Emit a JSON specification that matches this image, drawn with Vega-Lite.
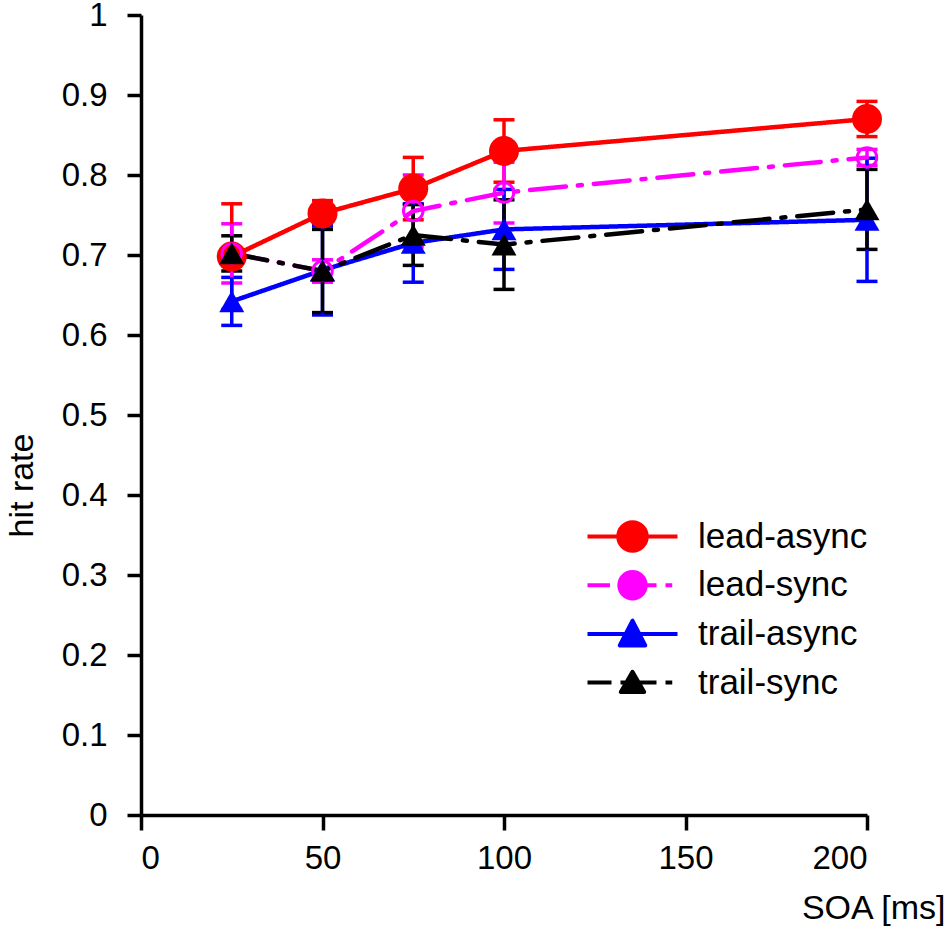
{
  "$schema": "https://vega.github.io/schema/vega-lite/v6.json",
  "autosize": {"type": "none"},
  "width": 726,
  "height": 800,
  "padding": {"left": 141, "top": 15, "right": 83, "bottom": 115},
  "background": "white",
  "config": {
    "view": {"stroke": null},
    "font": "Liberation Sans",
    "axis": {
      "grid": false,
      "domainColor": "black",
      "domainWidth": 3.5,
      "tickColor": "black",
      "tickWidth": 3.5,
      "labelColor": "black",
      "labelFont": "Liberation Sans",
      "labelFontSize": 33,
      "titleColor": "black",
      "titleFont": "Liberation Sans",
      "titleFontSize": 34,
      "titleFontWeight": "normal"
    }
  },
  "data": {
    "values": [
      {"series": "lead-async", "soa": 25, "rate": 0.698, "err": 0.066},
      {"series": "lead-async", "soa": 50, "rate": 0.752, "err": 0.016},
      {"series": "lead-async", "soa": 75, "rate": 0.783, "err": 0.039},
      {"series": "lead-async", "soa": 100, "rate": 0.830, "err": 0.039},
      {"series": "lead-async", "soa": 200, "rate": 0.870, "err": 0.022},
      {"series": "lead-sync", "soa": 25, "rate": 0.702, "err": 0.037},
      {"series": "lead-sync", "soa": 50, "rate": 0.680, "err": 0.014},
      {"series": "lead-sync", "soa": 75, "rate": 0.755, "err": 0.045},
      {"series": "lead-sync", "soa": 100, "rate": 0.778, "err": 0.038},
      {"series": "lead-sync", "soa": 200, "rate": 0.822, "err": 0.010},
      {"series": "trail-async", "soa": 25, "rate": 0.642, "err": 0.030},
      {"series": "trail-async", "soa": 50, "rate": 0.681, "err": 0.056},
      {"series": "trail-async", "soa": 75, "rate": 0.715, "err": 0.049},
      {"series": "trail-async", "soa": 100, "rate": 0.732, "err": 0.050},
      {"series": "trail-async", "soa": 200, "rate": 0.744, "err": 0.077},
      {"series": "trail-sync", "soa": 25, "rate": 0.702, "err": 0.022},
      {"series": "trail-sync", "soa": 50, "rate": 0.680, "err": 0.052},
      {"series": "trail-sync", "soa": 75, "rate": 0.725, "err": 0.038},
      {"series": "trail-sync", "soa": 100, "rate": 0.713, "err": 0.056},
      {"series": "trail-sync", "soa": 200, "rate": 0.757, "err": 0.050}
    ]
  },
  "encoding": {
    "x": {
      "field": "soa",
      "type": "quantitative",
      "scale": {"domain": [0, 200], "nice": false},
      "axis": {
        "values": [0, 50, 100, 150, 200],
        "tickSize": 15,
        "labelPadding": 12,
        "labelBaseline": "top",
        "title": "SOA [ms]",
        "titleX": 804,
        "titleY": 103,
        "titleAlign": "right",
        "titleBaseline": "alphabetic"
      }
    },
    "y": {
      "field": "rate",
      "type": "quantitative",
      "scale": {"domain": [0, 1], "nice": false},
      "axis": {
        "values": [0, 0.1, 0.2, 0.3, 0.4, 0.5, 0.6, 0.7, 0.8, 0.9, 1],
        "format": "~g",
        "tickSize": 14,
        "labelPadding": 20,
        "title": "hit rate",
        "titleX": -109,
        "titleY": 470,
        "titleAngle": -90,
        "titleAlign": "center",
        "titleBaseline": "alphabetic"
      }
    },
    "color": {
      "field": "series",
      "type": "nominal",
      "scale": {
        "domain": ["lead-async", "lead-sync", "trail-async", "trail-sync"],
        "range": ["#ff0000", "#ff00ff", "#0000ff", "#000000"]
      },
      "legend": {
        "title": null,
        "orient": "none",
        "legendX": 474,
        "legendY": 504,
        "padding": 0,
        "symbolSize": 900,
        "symbolStrokeWidth": 4,
        "labelFont": "Liberation Sans",
        "labelFontSize": 35,
        "labelColor": "black",
        "labelLimit": 400,
        "labelOffset": 48,
        "rowPadding": 12.7,
        "encode": {
          "symbols": {
            "update": {
              "shape": [
                {"test": "datum.value === 'lead-async'", "value": "M-3,0H3M0.95,0C0.95,0.525,0.525,0.95,0,0.95C-0.525,0.95,-0.95,0.525,-0.95,0C-0.95,-0.525,-0.525,-0.95,0,-0.95C0.525,-0.95,0.95,-0.525,0.95,0Z"},
                {"test": "datum.value === 'lead-sync'", "value": "M-3,0H-1.5M-0.8,0H1.6M2.2,0H2.65M0.88,0C0.88,0.486,0.486,0.88,0,0.88C-0.486,0.88,-0.88,0.486,-0.88,0C-0.88,-0.486,-0.486,-0.88,0,-0.88C0.486,-0.88,0.88,-0.486,0.88,0Z"},
                {"test": "datum.value === 'trail-async'", "value": "M-3,0H3M0,-0.88L-0.85,0.77L0.85,0.77Z"},
                {"value": "M-3,0H-1.4M-0.8,0H1.6M2.2,0H2.65M0,-0.72L-0.78,0.62L0.78,0.62Z"}
              ],
              "fill": {"scale": "color", "field": "value"},
              "stroke": {"scale": "color", "field": "value"},
              "strokeWidth": {"value": 4},
              "strokeJoin": {"value": "round"},
              "fillOpacity": {"value": 1},
              "strokeOpacity": {"value": 1},
              "opacity": {"value": 1}
            }
          }
        }
      }
    }
  },
  "layer": [
    {
      "mark": {"type": "errorbar", "ticks": true, "size": 21, "thickness": 3.5, "opacity": 1},
      "encoding": {
        "yError": {"field": "err"}
      }
    },
    {
      "mark": {"type": "line", "strokeWidth": 4.5, "strokeCap": "round"},
      "encoding": {
        "strokeDash": {
          "condition": {"test": "datum.series == 'lead-sync' || datum.series == 'trail-sync'", "value": [36, 12, 4, 12]},
          "value": [1, 0]
        }
      }
    },
    {
      "transform": [{"filter": "datum.series == 'lead-async'"}],
      "mark": {"type": "point", "shape": "circle", "filled": true, "size": 900, "opacity": 1}
    },
    {
      "transform": [{"filter": "datum.series == 'lead-sync'"}],
      "mark": {"type": "point", "shape": "circle", "filled": false, "size": 380, "strokeWidth": 3, "opacity": 1}
    },
    {
      "transform": [{"filter": "datum.series == 'trail-async' || datum.series == 'trail-sync'"}],
      "mark": {"type": "point", "shape": "triangle-up", "filled": true, "size": 625, "opacity": 1}
    }
  ]
}
